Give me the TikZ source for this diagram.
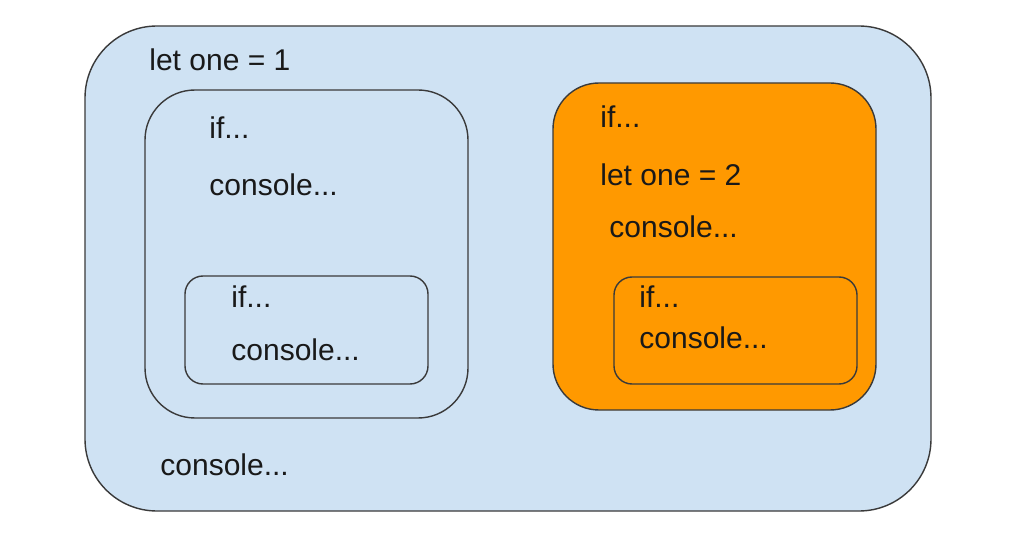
\documentclass[tikz,border=0pt]{standalone}
\usepackage{fontspec}
\setmainfont{Liberation Sans}
\definecolor{paleblue}{HTML}{CFE2F3}
\definecolor{gorange}{HTML}{FF9900}
\definecolor{edge}{HTML}{3A3A3A}
\begin{document}
\begin{tikzpicture}[x=0.5pt,y=-0.5pt,
  scopebox/.style={draw=edge,line width=0.7pt},
  lbl/.style={anchor=base west,inner sep=0pt,font=\fontsize{15}{18}\selectfont,text=black!90}]
\useasboundingbox (0,0) rectangle (1024,535);
\fill[white] (0,0) rectangle (1024,535);
% outer scope
\draw[scopebox,fill=paleblue,rounded corners=36pt] (85,26) rectangle (931,511);
% left block
\draw[scopebox,rounded corners=25pt] (145,90) rectangle (468,418);
\draw[scopebox,rounded corners=9pt] (185,276) rectangle (428,384);
% orange block
\draw[scopebox,fill=gorange,rounded corners=23pt] (553,83) rectangle (876,410);
\draw[scopebox,rounded corners=9pt] (614,277) rectangle (857,384);
% texts
\node[lbl] (t1) at (149,71) {let one = 1};
\node[lbl] (t2) at (209,139) {if...};
\node[lbl] (t3) at (209,196) {console...};
\node[lbl] (t4) at (231,307) {if...};
\node[lbl] (t5) at (231,360) {console...};
\node[lbl] (t6) at (160,475) {console...};
\node[lbl] (t7) at (600,128) {if...};
\node[lbl] (t8) at (600,186) {let one = 2};
\node[lbl] (t9) at (609,238) {console...};
\node[lbl] (t10) at (639,307) {if...};
\node[lbl] (t11) at (639,349) {console...};
\end{tikzpicture}
\end{document}
